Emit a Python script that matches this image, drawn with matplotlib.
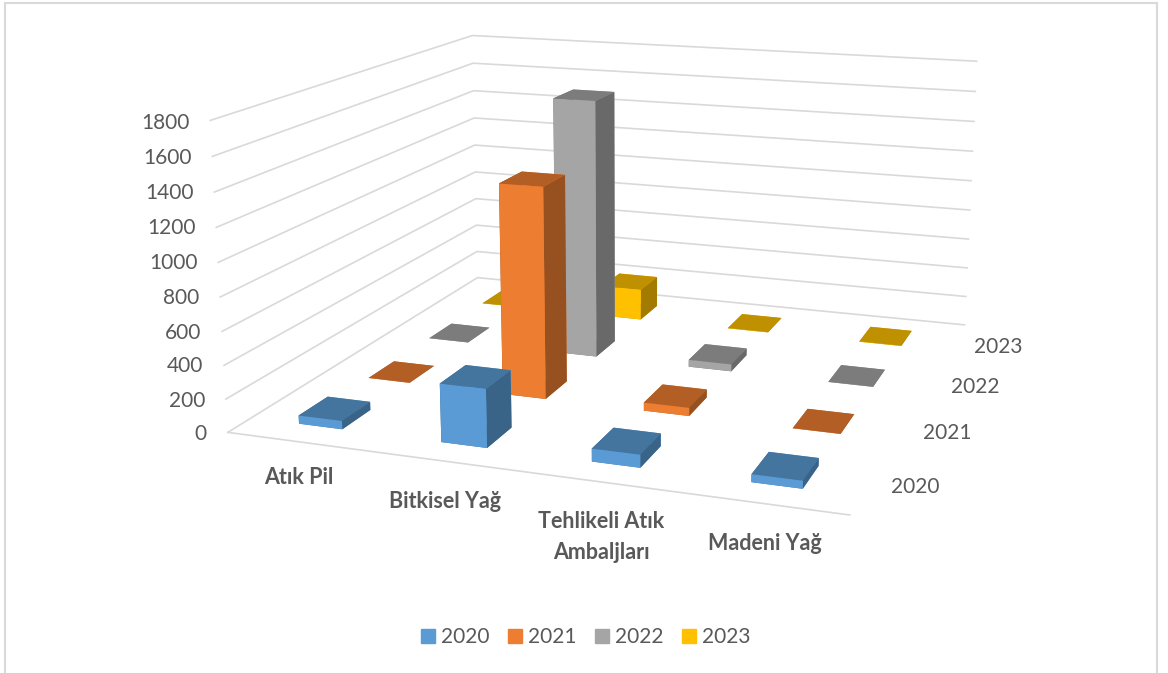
import numpy as np
import matplotlib
matplotlib.use('Agg')
import matplotlib.pyplot as plt
from matplotlib.patches import Patch, Rectangle

plt.rcParams['font.family'] = ['Lato', 'DejaVu Sans']

categories = ['Atık Pil', 'Bitkisel Yağ', 'Tehlikeli Atık\nAmbaljları', 'Madeni Yağ']
years = ['2020', '2021', '2022', '2023']
z_ticks = [0, 200, 400, 600, 800, 1000, 1200, 1400, 1600, 1800]

v2020 = [50, 345, 75, 45]
v2021 = [1, 1300, 50, 1]
v2022 = [1, 1660, 45, 1]
v2023 = [1, 210, 2, 2]
values = [v2020, v2021, v2022, v2023]

# front, top, side
colors = {
    '2020': ('#5b9bd5', '#44759f', '#3a6388'),
    '2021': ('#ed7d31', '#b25e25', '#97501f'),
    '2022': ('#a5a5a5', '#7c7c7c', '#696969'),
    '2023': ('#ffc000', '#bf9000', '#a37b00'),
}
W, H = 1168, 673
grid_color = '#d9d9d9'
text_color = '#595959'
bar_dx = 0.31
bar_dy = 0.4

fig = plt.figure(figsize=(W / 100, H / 100), dpi=100)
ax = fig.add_subplot(projection='3d', computed_zorder=False)
ax.set_xlim(0, 4, view_margin=0)
ax.set_ylim(0, 4, view_margin=0)
ax.set_zlim(0, 1800, view_margin=0)
ax.view_init(14.1681, -70.5658, 0.009)
ax.set_proj_type('persp', focal_length=0.4042)
ax.set_box_aspect((1.439, 1.3917, 0.7196))
ax.set_axis_off()
ax.patch.set_alpha(0)

# place the axes so the box lands where the original has it
scale, ox, oy = 4570.69, 628.5, 233.79
inv = ax.transData.inverted()
x0, y0 = inv.transform(ax.transAxes.transform((0, 0)))
x1, y1 = inv.transform(ax.transAxes.transform((1, 1)))
side = scale * (x1 - x0)
left = ox + scale * x0
bottom = H - (oy - scale * y0)
ax.set_position([left / W, bottom / H, side / W, side / H])

for z in z_ticks:
    ax.plot([0, 0, 4], [0, 4, 4], [z, z, z], color=grid_color, lw=1.2, zorder=1)
ax.plot([0, 4], [0, 0], [0, 0], color=grid_color, lw=1.2, zorder=1)

# back row first, left to right
zo = 2
for j in range(3, -1, -1):
    front, top, sidec = colors[years[j]]
    for i in range(4):
        ax.bar3d(i + 0.5 - bar_dx / 2, j + 0.5 - bar_dy / 2, 0, bar_dx, bar_dy, values[j][i],
                 color=[top, top, front, front, sidec, sidec], shade=False, zorder=zo)
        zo += 1

def label(x, y, s, **kw):
    fig.text(x / W, 1 - y / H, s, color=text_color, va='center', **kw)

tick_y = [432, 399, 364, 331, 296, 261, 226, 191, 156, 121]
for t, y in zip(z_ticks, tick_y):
    label(207 - (432 - y) * 17 / 311, y + 2, str(t), ha='right', fontsize=15)

for y_lab, px, py in zip(years, [915, 947, 975, 998], [487, 433, 387, 347]):
    label(px, py, y_lab, ha='center', fontsize=15)

for c, px, py in zip(categories, [299, 445, 601, 765], [478, 502, 537, 544]):
    label(px, py, c, ha='center', fontsize=15.5, fontweight='bold', linespacing=1.6)

handles = [Patch(color=colors[y][0], label=y) for y in years]
fig.legend(handles=handles, loc='center', bbox_to_anchor=(586 / W, 1 - 637 / H), ncol=4,
           frameon=False, fontsize=15, labelcolor=text_color, handlelength=0.65,
           handleheight=0.65, handletextpad=0.3, columnspacing=0.9)

fig.add_artist(Rectangle((5 / W, -0.01), 1152 / W, 1 - 3 / H + 0.01, transform=fig.transFigure,
                         fill=False, edgecolor='#d9d9d9', lw=1.5))

fig.savefig('out.png', dpi=100)
